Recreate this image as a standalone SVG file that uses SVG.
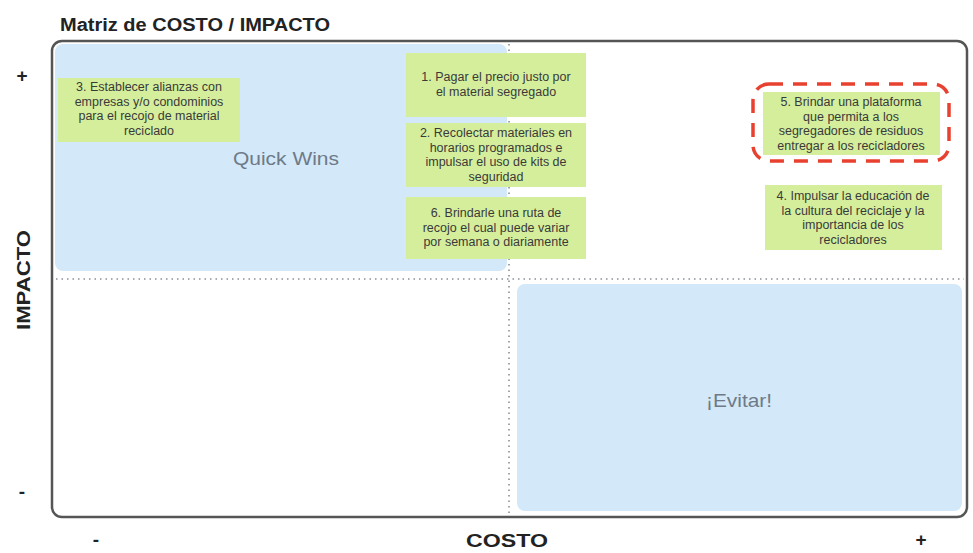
<svg xmlns="http://www.w3.org/2000/svg" width="973" height="553" viewBox="0 0 973 553">
  <style>
    .title { font-family: "Liberation Sans", Arial, sans-serif; font-weight: bold; fill: #222; }
    .axis { font-family: "Liberation Sans", Arial, sans-serif; font-weight: bold; fill: #222; font-size: 19px; text-anchor: middle; }
    .zone { fill: #d3e8f8; }
    .zoneLabel { font-family: "Liberation Sans", Arial, sans-serif; fill: #6e7a88; text-anchor: middle; }
    .note rect { fill: #d5ee9c; }
    .note text { font-family: "Liberation Sans", Arial, sans-serif; font-size: 12.5px; fill: #3a3a3a; text-anchor: middle; }
    .divider { stroke: #8a8f96; stroke-width: 1.6; stroke-dasharray: 1.5 4; fill: none; }
    .note rect.highlight { fill: none; stroke: #e8412f; stroke-width: 3.5; stroke-dasharray: 14 10; }
  </style>

  <rect width="973" height="553" fill="#ffffff"/>

  <!-- title -->
  <text class="title" x="60" y="31" font-size="18" textLength="270" lengthAdjust="spacingAndGlyphs">Matriz de COSTO / IMPACTO</text>

  <!-- quadrant backgrounds -->
  <rect class="zone" x="55" y="44" width="452" height="227" rx="8"/>
  <rect class="zone" x="517" y="284" width="445" height="227" rx="8"/>

  <!-- frame -->
  <rect x="52" y="41" width="915" height="476" rx="10" fill="none" stroke="#555" stroke-width="2.5"/>

  <!-- quadrant dividers -->
  <g id="connectors">
    <line class="divider" x1="56" y1="279" x2="964" y2="279"/>
    <line class="divider" x1="509" y1="44" x2="509" y2="514"/>
  </g>

  <!-- zone labels -->
  <text class="zoneLabel" x="286" y="165" font-size="19" textLength="106" lengthAdjust="spacingAndGlyphs">Quick Wins</text>
  <text class="zoneLabel" x="739" y="407" font-size="19" textLength="66" lengthAdjust="spacingAndGlyphs">¡Evitar!</text>

  <!-- axes -->
  <text class="axis" transform="translate(30 280) rotate(-90)" textLength="100" lengthAdjust="spacingAndGlyphs">IMPACTO</text>
  <text class="axis" x="507" y="547" textLength="82" lengthAdjust="spacingAndGlyphs">COSTO</text>
  <text class="axis" x="22" y="82">+</text>
  <text class="axis" x="22" y="498">-</text>
  <text class="axis" x="96" y="546">-</text>
  <text class="axis" x="921" y="546">+</text>

  <!-- notes -->
  <g id="note3" class="note">
    <rect x="58" y="78" width="182" height="64"/>
    <text x="149" y="91">3. Establecer alianzas con</text>
    <text x="149" y="105.5">empresas y/o condominios</text>
    <text x="149" y="120">para el recojo de material</text>
    <text x="149" y="134.5">reciclado</text>
  </g>

  <g id="note1" class="note">
    <rect x="406" y="53" width="180" height="64"/>
    <text x="496" y="81">1. Pagar el precio justo por</text>
    <text x="496" y="96">el material segregado</text>
  </g>

  <g id="note2" class="note">
    <rect x="406" y="123" width="180" height="64"/>
    <text x="496" y="137">2. Recolectar materiales en</text>
    <text x="496" y="151.5">horarios programados e</text>
    <text x="496" y="166">impulsar el uso de kits de</text>
    <text x="496" y="180.5">seguridad</text>
  </g>

  <g id="note6" class="note">
    <rect x="406" y="197" width="180" height="62"/>
    <text x="496" y="217">6. Brindarle una ruta de</text>
    <text x="496" y="231.5">recojo el cual puede variar</text>
    <text x="496" y="246">por semana o diariamente</text>
  </g>

  <g id="note5" class="note">
    <rect x="763" y="92" width="177" height="63"/>
    <text x="851" y="106">5. Brindar una plataforma</text>
    <text x="851" y="120.5">que permita a los</text>
    <text x="851" y="135">segregadores de residuos</text>
    <text x="851" y="149.5">entregar a los recicladores</text>
    <rect class="highlight" x="753" y="84" width="196" height="77" rx="16"/>
  </g>

  <g id="note4" class="note">
    <rect x="765" y="185" width="177" height="65"/>
    <text x="853" y="200">4. Impulsar la educación de</text>
    <text x="853" y="214.5">la cultura del reciclaje y la</text>
    <text x="853" y="229">importancia de los</text>
    <text x="853" y="243.5">recicladores</text>
  </g>
</svg>
